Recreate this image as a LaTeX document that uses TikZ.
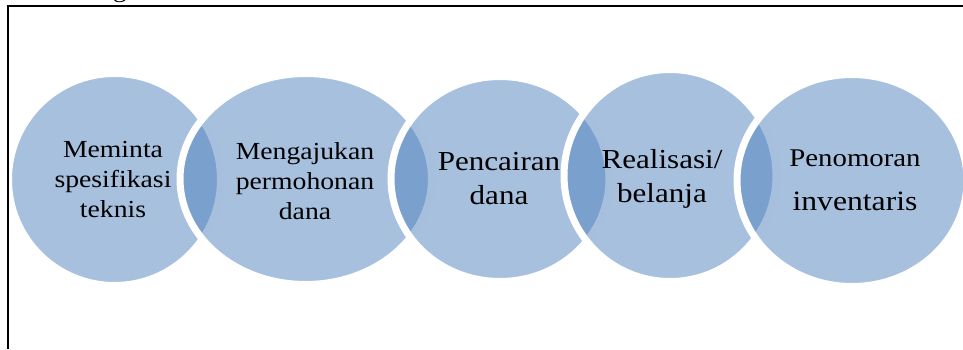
\documentclass[tikz,border=0pt]{standalone}
\usepackage{fontspec}
\setmainfont{Liberation Serif}[FakeStretch=1.13]
\usetikzlibrary{shapes.geometric}
\definecolor{bubblue}{HTML}{4F81BD}
\begin{document}
\begin{tikzpicture}[x=1pt,y=1pt,
  bub/.style={ellipse, fill=bubblue, fill opacity=0.5, draw=white, line width=7pt, inner sep=0pt, outer sep=0pt},
  lab/.style={text=black, align=center, inner sep=0pt},
  frameline/.style={draw=black, line width=2.3pt}]
\useasboundingbox (0,0) rectangle (963,349);
\node[bub, minimum width=212pt, minimum height=212pt] (c1) at (114.5,169.5) {};
\node[bub, minimum width=251.5pt, minimum height=211pt] (c2) at (305.75,170) {};
\node[bub, minimum width=218pt, minimum height=205pt] (c3) at (500,170) {};
\node[bub, minimum width=212pt, minimum height=212pt] (c4) at (670,173.5) {};
\node[bub, minimum width=230pt, minimum height=212pt] (c5) at (852,168.5) {};
\node[lab, font=\fontsize{24.5}{30}\selectfont] (t1) at (113,169) {Meminta\\spesifikasi\\teknis};
\node[lab, font=\fontsize{24.5}{30}\selectfont] (t2) at (305,168) {Mengajukan\\permohonan\\dana};
\node[lab, font=\fontsize{27.5}{34}\selectfont] (t3) at (499,170) {Pencairan\\dana};
\node[lab, font=\fontsize{27.5}{34}\selectfont] (t4) at (662,170) {Realisasi/\\belanja};
\node[lab, font=\fontsize{25.5}{30}\selectfont] (t5a) at (855,191) {Penomoran};
\node[lab, font=\fontsize{28}{34}\selectfont] (t5b) at (855,148) {inventaris};
\node[lab, anchor=base, font=\fontsize{24}{28}\selectfont] (frag) at (120,351.5) {g};
\coordinate (fa) at (8,0);
\coordinate (fb) at (8,343);
\coordinate (fc) at (970,343);
\draw[frameline] (fa) -- (fb) -- (fc);
\end{tikzpicture}
\end{document}
